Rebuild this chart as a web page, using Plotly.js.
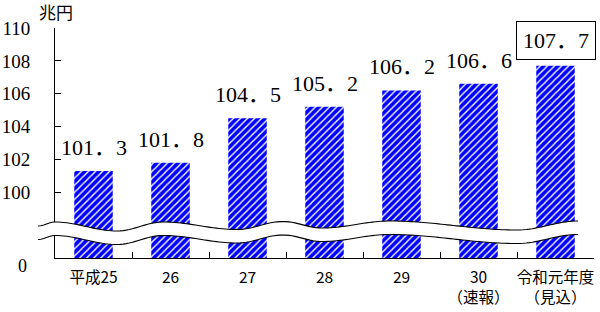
<!DOCTYPE html>
<html><head><meta charset="utf-8">
<script src="https://cdn.plot.ly/plotly-3.0.1.min.js"></script>
<style>html,body{margin:0;padding:0;background:#fff}</style>
</head><body><div id="chart" style="width:600px;height:312px"></div>
<script>
// ---- data ----
const categories = ['平成25', '26', '27', '28', '29', '30<br>（速報）', '令和元年度<br>（見込）'];
const values = [101.3, 101.8, 104.5, 105.2, 106.2, 106.6, 107.7];
const yTickVals = [100, 102, 104, 106, 108, 110];
const yTickText = ['100', '102', '104', '106', '108', '110'];
const zeroLabel = '0';
const unitLabel = '兆円';
const highlightIndex = 6;

// ---- layout geometry ----
const W = 600, H = 312;
const M = {l: 55, r: 6, t: 28, b: 54};
const yMin = 96, yMax = 110;
const serif = 'Liberation Serif, "Noto Sans CJK JP", serif';
const jp = '"Noto Sans CJK JP", sans-serif';

const pw = W - M.l - M.r, ph = H - M.t - M.b;
const px2paperX = px => (px - M.l) / pw;
const px2paperY = py => (H - M.b - py) / ph;

// wavy axis-break decoration (pixel extremes of upper line)
const waveExtremes = [[38,226],[55,222],[117,231],[163,222],[237,229.5],[283,221.5],[322,228],[390,221],[517,230],[578,221]];
const waveGap = 13.5;
function wavePoints(offset){
  const pts = [];
  for (let i = 0; i < waveExtremes.length - 1; i++){
    const [x0,y0] = waveExtremes[i], [x1,y1] = waveExtremes[i+1];
    const n = Math.max(4, Math.round((x1-x0)/3));
    for (let k = 0; k < n; k++){
      const t = k/n;
      pts.push([x0 + (x1-x0)*t, y0 + (y1-y0)*(1-Math.cos(Math.PI*t))/2 + offset]);
    }
  }
  const last = waveExtremes[waveExtremes.length-1];
  pts.push([last[0], last[1] + offset]);
  return pts;
}
const up = wavePoints(0), lo = wavePoints(waveGap);
const toPath = (pts, start) => pts.map((p,i) => (i===0 && start ? 'M' : 'L') + px2paperX(p[0]).toFixed(5) + ',' + px2paperY(p[1]).toFixed(5)).join(' ');
const fillPath = toPath(up, true) + ' ' + toPath(lo.slice().reverse(), false) + ' Z';

const fmt = v => v.toFixed(1).replace('.', '．');

const trace = {
  type: 'bar',
  x: categories,
  y: values,
  marker: {
    color: '#0000ff',
    line: {width: 0},
    pattern: {shape: '/', fgcolor: '#ffffff', bgcolor: '#0000ff', size: 5, solidity: 0.28}
  },
  hoverinfo: 'skip'
};

const annotations = values.map((v, i) => ({
  x: i, y: v, xref: 'x', yref: 'y',
  text: fmt(v), showarrow: false, yanchor: 'bottom', yshift: i === highlightIndex ? 6 : 11,
  font: {family: serif, size: 22, color: '#000'},
  bordercolor: i === highlightIndex ? '#000' : 'rgba(0,0,0,0)',
  borderwidth: i === highlightIndex ? 1 : 0,
  borderpad: i === highlightIndex ? 6 : 0
}));
annotations.push({
  x: px2paperX(29), xref: 'paper', xanchor: 'right',
  y: yMin, yref: 'y', yanchor: 'middle', yshift: -8,
  text: zeroLabel, showarrow: false, font: {family: serif, size: 18, color: '#000'}
});
annotations.push({
  x: px2paperX(56), xref: 'paper', xanchor: 'center',
  y: px2paperY(12), yref: 'paper', yanchor: 'middle',
  text: unitLabel, showarrow: false, font: {family: jp, size: 17, color: '#000'}
});

const layout = {
  width: W, height: H,
  margin: M,
  paper_bgcolor: '#fff', plot_bgcolor: '#fff',
  showlegend: false,
  bargap: 0.5,
  xaxis: {
    type: 'category',
    range: [-0.5, categories.length - 0.5],
    showline: true, linecolor: '#000', linewidth: 1,
    ticks: 'inside', tickson: 'boundaries', ticklen: 6, tickcolor: '#000',
    showgrid: false, zeroline: false, tickangle: 0,
    tickfont: {family: jp, size: 15.5, color: '#000'},
    ticklabelstandoff: 5
  },
  yaxis: {
    range: [yMin, yMax],
    showline: true, linecolor: '#000', linewidth: 1,
    ticks: 'inside', ticklen: 6, tickcolor: '#000',
    tickvals: yTickVals, ticktext: yTickText,
    showgrid: false, zeroline: false,
    tickfont: {family: serif, size: 19, color: '#000'},
    ticklabelstandoff: 20
  },
  annotations: annotations,
  shapes: [
    {type: 'path', xref: 'paper', yref: 'paper', path: fillPath, fillcolor: '#fff', line: {width: 0}, layer: 'above'},
    {type: 'path', xref: 'paper', yref: 'paper', path: toPath(up, true), line: {color: '#000', width: 1.1}, layer: 'above'},
    {type: 'path', xref: 'paper', yref: 'paper', path: toPath(lo, true), line: {color: '#000', width: 1.1}, layer: 'above'}
  ]
};

Plotly.newPlot('chart', [trace], layout, {displayModeBar: false, staticPlot: true});
</script>
</body></html>
